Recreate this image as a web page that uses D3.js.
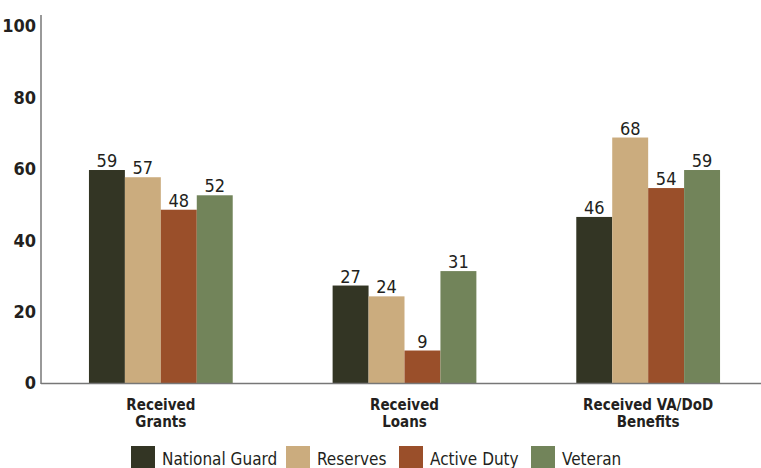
<!DOCTYPE html>
<html>
  <head>
    <script src="https://cdn.jsdelivr.net/npm/d3@7/dist/d3.min.js"></script>
    <style>
      body { margin: 0; background: #fff; }
      text { font-family: 'DejaVu Sans', sans-serif; font-stretch: condensed; fill: #231f20; }
    </style>
  </head>
  <body>
    <svg width="761" height="468"></svg>
    <script>
      const categories = [['Received', 'Grants'], ['Received', 'Loans'], ['Received VA/DoD', 'Benefits']];
      const series = ['National Guard', 'Reserves', 'Active Duty', 'Veteran'];
      const values = [
        [59, 27, 46],   // National Guard
        [57, 24, 68],   // Reserves
        [48, 9, 54],    // Active Duty
        [52, 31, 59]    // Veteran
      ];
      const yTicks = [0, 20, 40, 60, 80, 100];
      const colors = ['#333524', '#cbac7e', '#9a4f2a', '#72845a'];

      const svg = d3.select('svg');

      // scales
      const x0 = d3.scaleBand()
        .domain(d3.range(categories.length))
        .range([39, 770])
        .paddingInner(0.41)
        .paddingOuter(0.205);
      const x1 = d3.scaleBand()
        .domain(series)
        .range([0, x0.bandwidth()]);
      const y = d3.scaleLinear()
        .domain([0, 100])
        .range([383, 22]);

      // y axis labels
      svg.append('g').selectAll('text')
        .data(yTicks)
        .enter().append('text')
        .attr('x', 36)
        .attr('y', d => 383 - d * 3.57)
        .attr('dy', '0.36em')
        .attr('text-anchor', 'end')
        .style('font-weight', 'bold')
        .style('font-size', '18px')
        .text(d => d);

      // bars
      const groups = svg.append('g').selectAll('g')
        .data(categories.map((c, i) => series.map((s, j) => ({cat: i, s: s, j: j, v: values[j][i]}))))
        .enter().append('g')
        .attr('transform', (d, i) => `translate(${x0(i)},0)`);

      groups.selectAll('rect')
        .data(d => d)
        .enter().append('rect')
        .attr('x', d => x1(d.s))
        .attr('width', x1.bandwidth())
        .attr('y', d => y(d.v))
        .attr('height', d => y(0) - y(d.v))
        .attr('fill', d => colors[d.j]);

      groups.selectAll('text')
        .data(d => d)
        .enter().append('text')
        .attr('x', d => x1(d.s) + x1.bandwidth() / 2)
        .attr('y', d => y(d.v) - 3)
        .attr('text-anchor', 'middle')
        .style('font-size', '18px')
        .text(d => d.v);

      // axes lines
      svg.append('line')
        .attr('x1', 41).attr('x2', 41)
        .attr('y1', 15).attr('y2', 384)
        .attr('stroke', '#777').attr('stroke-width', 1.5);
      svg.append('line')
        .attr('x1', 41).attr('x2', 761)
        .attr('y1', 383.5).attr('y2', 383.5)
        .attr('stroke', '#777').attr('stroke-width', 1.5);

      // category labels, one text per line
      categories.forEach((c, i) => {
        c.forEach((t, k) => {
          svg.append('text')
            .attr('x', x0(i) + x0.bandwidth() / 2)
            .attr('y', 410 + k * 17)
            .attr('text-anchor', 'middle')
            .style('font-weight', 'bold')
            .style('font-size', '15px')
            .text(t);
        });
      });

      // legend
      const legendX = [131, 286, 399, 531];
      const legend = svg.append('g').selectAll('g')
        .data(series)
        .enter().append('g')
        .attr('transform', (d, i) => `translate(${legendX[i]},446)`);
      legend.append('rect')
        .attr('width', 24).attr('height', 24)
        .attr('fill', (d, i) => colors[i]);
      legend.append('text')
        .attr('x', 31)
        .attr('y', 19)
        .style('font-size', '17px')
        .text(d => d);

      // unit title, cut off at the top
      svg.append('text')
        .attr('x', 360)
        .attr('y', -3)
        .attr('text-anchor', 'middle')
        .style('font-weight', 'bold')
        .style('font-size', '18px')
        .text('(%)');
    </script>
  </body>
</html>
